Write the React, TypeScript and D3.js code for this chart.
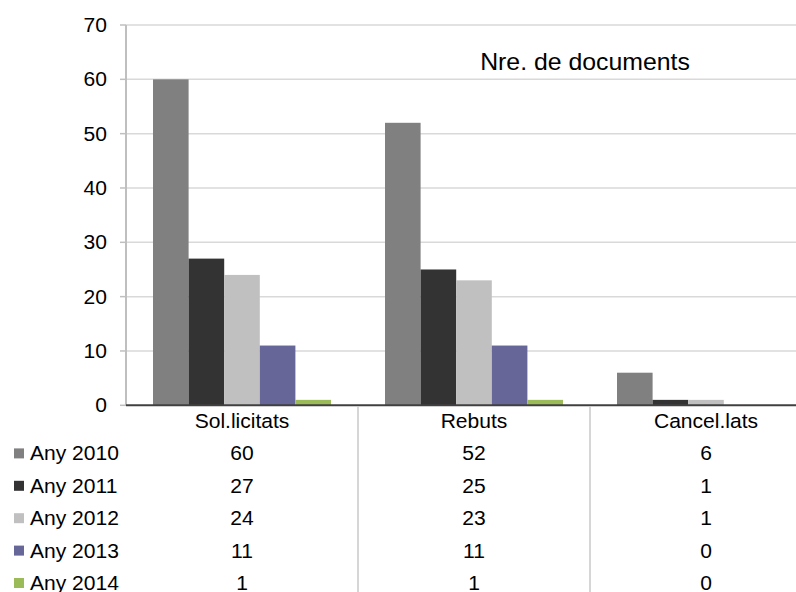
import React from "react";
import * as d3 from "d3";

const categories = ["Sol.licitats", "Rebuts", "Cancel.lats"];
const seriesNames = ["Any 2010", "Any 2011", "Any 2012", "Any 2013", "Any 2014"];
const any2010 = [60, 52, 6];
const any2011 = [27, 25, 1];
const any2012 = [24, 23, 1];
const any2013 = [11, 11, 0];
const any2014 = [1, 1, 0];
const seriesValues = [any2010, any2011, any2012, any2013, any2014];
const seriesColors = ["#808080", "#333333", "#c0c0c0", "#666699", "#9bbb59"];
const yTicks = [0, 10, 20, 30, 40, 50, 60, 70];
const title = "Nre. de documents";

const W = 796;
const H = 592;
const plotLeft = 126;
const plotRight = 822;
const y0 = 405.3;
const y70 = 25;
const SX = 1.08;
const FONT = "'Liberation Sans', Arial, Helvetica, sans-serif";

function T({ x, y, anchor = "middle", size = 20, children }: any) {
  return (
    <g transform={`translate(${x},${y}) scale(${SX},1)`}>
      <text x={0} y={0} textAnchor={anchor} fontSize={size} fontFamily={FONT} fill="#000">
        {children}
      </text>
    </g>
  );
}

export default function App() {
  const x = d3.scaleBand<string>().domain(categories).range([plotLeft, plotRight]).paddingInner(0).paddingOuter(0);
  const bw = x.bandwidth();
  const inner = d3
    .scaleBand<string>()
    .domain(seriesNames)
    .range([bw * 0.1164, bw * (1 - 0.1164)])
    .padding(0);
  const y = d3.scaleLinear().domain([0, 70]).range([y0, y70]);

  const rowY0 = 421;
  const rowStep = 32.4;

  return (
    <svg width={W} height={H} style={{ position: "absolute", left: 0, top: 0, background: "#fff" }}>
      {/* gridlines */}
      {yTicks.slice(1).map((t) => (
        <line key={t} x1={plotLeft} x2={W} y1={y(t)} y2={y(t)} stroke="#d9d9d9" strokeWidth={1.5} />
      ))}
      {/* tick marks */}
      {yTicks.map((t) => (
        <line key={"tk" + t} x1={plotLeft - 6} x2={plotLeft} y1={y(t)} y2={y(t)} stroke="#bfbfbf" strokeWidth={1.5} />
      ))}
      {/* left axis */}
      <line x1={plotLeft} x2={plotLeft} y1={y(70)} y2={y(0)} stroke="#bfbfbf" strokeWidth={2} />
      {/* bars */}
      {categories.map((c, ci) =>
        seriesNames.map((s, si) => {
          const v = seriesValues[si][ci];
          if (v <= 0) return null;
          return (
            <rect
              key={c + s}
              x={(x(c) as number) + (inner(s) as number)}
              y={y(v)}
              width={inner.bandwidth()}
              height={y(0) - y(v)}
              fill={seriesColors[si]}
            />
          );
        })
      )}
      {/* baseline */}
      <line x1={plotLeft} x2={W} y1={y(0)} y2={y(0)} stroke="#404040" strokeWidth={2} />
      {/* table dividers */}
      {categories.slice(1).map((c) => (
        <line key={"dv" + c} x1={x(c) as number} x2={x(c) as number} y1={y(0) + 1} y2={H} stroke="#c8c8c8" strokeWidth={1.5} />
      ))}
      {/* y tick labels */}
      {yTicks.map((t) => (
        <T key={"yl" + t} x={107} y={y(t) + 7} anchor="end" size={19.5}>
          {t}
        </T>
      ))}
      {/* title */}
      <T x={585} y={70} size={23}>
        {title}
      </T>
      {/* category labels */}
      {categories.map((c) => (
        <T key={"cl" + c} x={(x(c) as number) + bw / 2} y={rowY0 + 7} size={19.5}>
          {c}
        </T>
      ))}
      {/* table rows */}
      {seriesNames.map((s, si) => {
        const cy = rowY0 + rowStep * (si + 1);
        return (
          <g key={"row" + s}>
            <rect x={14} y={cy - 5} width={10} height={10} fill={seriesColors[si]} />
            <T x={30} y={cy + 7} anchor="start" size={19.5}>
              {s}
            </T>
            {categories.map((c, ci) => (
              <T key={"v" + c} x={(x(c) as number) + bw / 2} y={cy + 7} size={19.5}>
                {seriesValues[si][ci]}
              </T>
            ))}
          </g>
        );
      })}
    </svg>
  );
}
